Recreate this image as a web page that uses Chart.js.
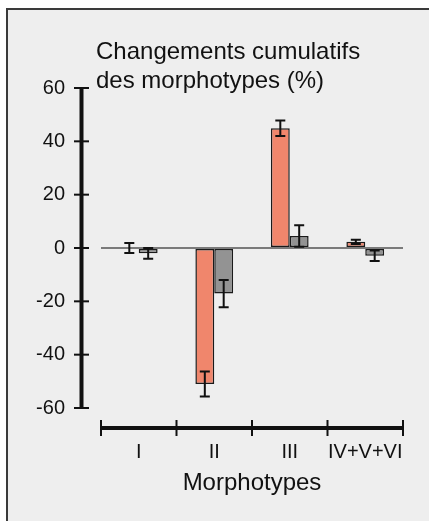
<!DOCTYPE html>
<html>
<head>
<meta charset="utf-8">
<script src="https://cdn.jsdelivr.net/npm/chart.js@4/dist/chart.umd.min.js"></script>
<style>
html, body { margin: 0; padding: 0; background: #fff; }
#wrap { position: relative; width: 429px; height: 521px; overflow: hidden; }
#title { position: absolute; left: 96px; top: 37px; font: 24px "Liberation Sans", Arial, sans-serif;
  line-height: 28.5px; color: #111; white-space: nowrap; }
#chart { position: absolute; left: 0; top: 0; }
</style>
</head>
<body>
<div id="wrap">
<canvas id="chart" width="429" height="521"></canvas>
<div id="title">Changements cumulatifs<br>des morphotypes (%)</div>
</div>
<script>
// categories + values
const categories = ['I', 'II', 'III', 'IV+V+VI'];
const orangeValues = [0, -51, 44.9, 2.3];
const orangeErrors = [1.9, 4.7, 2.9, 0.8];
const greyValues = [-2, -17.1, 4.5, -2.9];
const greyErrors = [2.0, 5.1, 4.0, 2.0];
const yTicks = [-60, -40, -20, 0, 20, 40, 60];

const FONT = '"Liberation Sans", Arial, sans-serif';

/* grey panel with a dark top/left edge */
const panel = {
    id: 'panel',
    beforeDraw(chart) {
        const ctx = chart.ctx;
        ctx.save();
        ctx.fillStyle = '#fff';
        ctx.fillRect(0, 0, chart.width, chart.height);
        ctx.fillStyle = '#eeeeee';
        ctx.fillRect(6, 8, chart.width, chart.height);
        ctx.strokeStyle = '#3a3a3a';
        ctx.lineWidth = 2;
        ctx.beginPath();
        ctx.moveTo(7, chart.height); ctx.lineTo(7, 9); ctx.lineTo(chart.width, 9);
        ctx.stroke();
        ctx.restore();
    }
};

/* error bars, drawn from the y scale */
const errorBars = {
    id: 'errorBars',
    afterDatasetsDraw(chart) {
        const ctx = chart.ctx;
        const y = chart.scales.y;
        ctx.save();
        ctx.strokeStyle = '#111';
        ctx.lineWidth = 2;
        chart.data.datasets.forEach((ds, d) => {
            const meta = chart.getDatasetMeta(d);
            meta.data.forEach((bar, i) => {
                const v = ds.data[i], e = ds.errors[i];
                const top = y.getPixelForValue(v + e);
                const bot = y.getPixelForValue(v - e);
                ctx.beginPath();
                ctx.moveTo(bar.x, top); ctx.lineTo(bar.x, bot);
                ctx.moveTo(bar.x - 5, top); ctx.lineTo(bar.x + 5, top);
                ctx.moveTo(bar.x - 5, bot); ctx.lineTo(bar.x + 5, bot);
                ctx.stroke();
            });
        });
        ctx.restore();
    }
};

/* detached y axis on the left and thick x axis below */
const axesLines = {
    id: 'axesLines',
    afterDraw(chart) {
        const ctx = chart.ctx;
        const x = chart.scales.x, y = chart.scales.y;
        const area = chart.chartArea;
        ctx.save();
        ctx.strokeStyle = '#111';

        const ax = area.left - 19.5;
        ctx.lineWidth = 4;
        ctx.beginPath();
        ctx.moveTo(ax, y.getPixelForValue(60) - 1);
        ctx.lineTo(ax, y.getPixelForValue(-60) + 1);
        ctx.stroke();
        ctx.lineWidth = 2;
        yTicks.forEach(t => {
            const py = y.getPixelForValue(t);
            ctx.beginPath();
            ctx.moveTo(ax - 7.5, py); ctx.lineTo(ax + 7.5, py);
            ctx.stroke();
        });

        const ay = area.bottom + 20;
        ctx.lineWidth = 4;
        ctx.beginPath();
        ctx.moveTo(area.left, ay); ctx.lineTo(area.right, ay);
        ctx.stroke();
        const step = x.getPixelForValue(1) - x.getPixelForValue(0);
        ctx.lineWidth = 2;
        for (let i = 0; i <= categories.length; i++) {
            const px = x.getPixelForValue(0) - step / 2 + i * step;
            ctx.beginPath();
            ctx.moveTo(px, ay - 8); ctx.lineTo(px, ay + 8);
            ctx.stroke();
        }
        ctx.restore();
    }
};

new Chart(document.getElementById('chart'), {
    type: 'bar',
    data: {
        labels: categories,
        datasets: [{
            label: 'A',
            data: orangeValues,
            errors: orangeErrors,
            backgroundColor: '#f0866c',
            borderColor: '#1a1a1a',
            borderWidth: ctx => (ctx.raw === 0 ? 0 : 1.5),
            borderSkipped: false
        }, {
            label: 'B',
            data: greyValues,
            errors: greyErrors,
            backgroundColor: '#939393',
            borderColor: '#1a1a1a',
            borderWidth: 1.5,
            borderSkipped: false
        }]
    },
    options: {
        responsive: false,
        animation: false,
        devicePixelRatio: 1,
        barPercentage: 1,
        categoryPercentage: 0.5,
        layout: { padding: { top: 88, right: 26, left: 0, bottom: 0 } },
        plugins: { legend: { display: false }, tooltip: { enabled: false } },
        scales: {
            x: {
                grid: { display: false, drawTicks: false },
                border: { display: false },
                ticks: {
                    color: '#111', padding: 32, maxRotation: 0, minRotation: 0, autoSkip: false,
                    font: { family: FONT, size: 20 }
                },
                title: {
                    display: true, text: 'Morphotypes', color: '#111',
                    font: { family: FONT, size: 24 }, padding: { top: 0, bottom: 23.6 }
                },
                afterFit: s => { s.height = 113; s.paddingLeft = 0; s.paddingRight = 0; }
            },
            y: {
                min: -60, max: 60,
                grid: {
                    drawTicks: false,
                    lineWidth: 2,
                    color: c => (c.tick && c.tick.value === 0 ? '#7a7a7a' : 'rgba(0,0,0,0)')
                },
                border: { display: false },
                ticks: { stepSize: 20, color: '#111', padding: 36, font: { family: FONT, size: 20 } },
                afterFit: s => { s.width = 101; s.paddingTop = 0; s.paddingBottom = 0; }
            }
        }
    },
    plugins: [panel, errorBars, axesLines]
});
</script>
</body>
</html>
